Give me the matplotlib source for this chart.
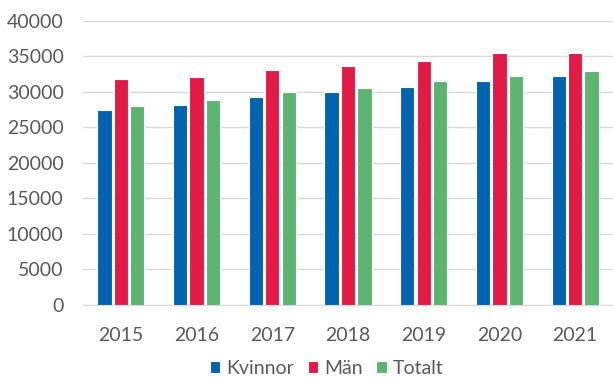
import matplotlib.pyplot as plt
import numpy as np

plt.rcParams['font.family'] = ['Lato', 'DejaVu Sans']

years = ['2015', '2016', '2017', '2018', '2019', '2020', '2021']
kvinnor = [27400, 28200, 29300, 29950, 30700, 31550, 32300]
man = [31800, 32100, 33100, 33700, 34350, 35450, 35450]
totalt = [28000, 28900, 29950, 30550, 31550, 32300, 32950]

series = [('Kvinnor', kvinnor, '#0063AF'),
          ('Män', man, '#E31946'),
          ('Totalt', totalt, '#5CB470')]

fig = plt.figure(figsize=(6.13, 3.85), dpi=100)
ax = fig.add_axes([83 / 613, 1 - 304.5 / 385, 530 / 613, 283.5 / 385])

x = np.arange(len(years))
width = 0.19
step = 0.217
for i, (name, vals, col) in enumerate(series):
    ax.bar(x + (i - 1) * step, vals, width, color=col, label=name,
           edgecolor='white', linewidth=0.8, zorder=3)

ax.set_xlim(-0.5, len(years) - 0.5)
ax.set_ylim(0, 40000)
ax.set_yticks(range(0, 40001, 5000))
ax.grid(axis='y', color='#D9D9D9', linewidth=1.0, zorder=0)
ax.set_xticks(x)
ax.set_xticklabels(years)
for s in ['top', 'right', 'left']:
    ax.spines[s].set_visible(False)
ax.spines['bottom'].set_color('#D9D9D9')
ax.tick_params(axis='both', length=0, labelsize=14, colors='#595959')
ax.tick_params(axis='x', pad=16)
ax.tick_params(axis='y', pad=14)

fig.legend(loc='lower center', bbox_to_anchor=(0.533, -0.025), ncol=3, frameon=False,
           fontsize=14, labelcolor='#595959', handlelength=0.55, handleheight=0.55,
           handletextpad=0.3, columnspacing=0.7)

fig.savefig('out.png', dpi=100)
